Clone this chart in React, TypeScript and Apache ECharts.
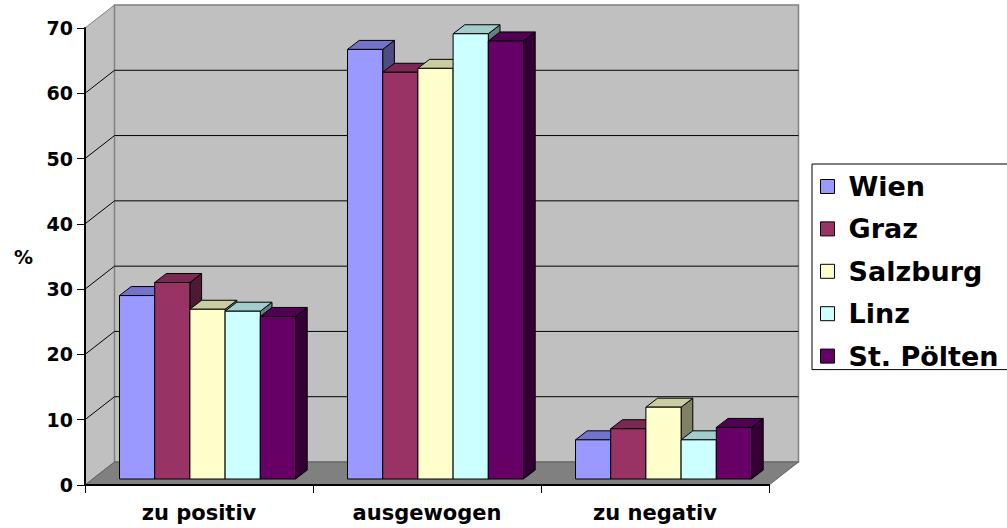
import React, { useEffect, useRef } from 'react';
import * as echarts from 'echarts';

// Survey answers per city, in percent
const categories = ['zu positiv', 'ausgewogen', 'zu negativ'];
const cities = ['Wien', 'Graz', 'Salzburg', 'Linz', 'St. Pölten'];
const wien = [28.1, 65.8, 6.0];
const graz = [30.1, 62.3, 7.7];
const salzburg = [26.0, 62.9, 11.0];
const linz = [25.7, 68.2, 6.0];
const stPoelten = [24.9, 67.1, 7.9];
const seriesValues = [wien, graz, salzburg, linz, stPoelten];

const yMin = 0;
const yMax = 70;
const yStep = 10;

// front / top / side face colours of each city's columns
const faceColors = [
  { front: '#9999FF', top: '#7373CC', side: '#4D4D80' },
  { front: '#993366', top: '#7A2952', side: '#4D1A33' },
  { front: '#FFFFCC', top: '#CCCCA3', side: '#808066' },
  { front: '#CCFFFF', top: '#A3CCCC', side: '#668080' },
  { front: '#660066', top: '#520052', side: '#330033' },
];

// oblique depth of the walls and columns
const WALL_DX = 29.5;
const WALL_DY = -23;
const BAR_OX = 8.5;
const BAR_OY = -6;
const BAR_DX = 11.7;
const BAR_DY = -9;
const GROUP_RATIO = 176 / 228;
const FONT = '"DejaVu Sans", "Liberation Sans", sans-serif';

const renderFrame = (params: any, api: any) => {
  const cs = params.coordSys;
  const x0 = cs.x;
  const x1 = cs.x + cs.width;
  const y0 = cs.y;
  const y1 = cs.y + cs.height;
  const children: any[] = [];
  // side wall
  children.push({
    type: 'polygon',
    shape: { points: [[x0, y0], [x0 + WALL_DX, y0 + WALL_DY], [x0 + WALL_DX, y1 + WALL_DY], [x0, y1]] },
    style: { fill: '#C0C0C0', stroke: '#808080', lineWidth: 1 },
  });
  // back wall
  children.push({
    type: 'rect',
    shape: { x: x0 + WALL_DX, y: y0 + WALL_DY, width: cs.width, height: cs.height },
    style: { fill: '#C0C0C0', stroke: '#808080', lineWidth: 1.5 },
  });
  // floor
  children.push({
    type: 'polygon',
    shape: { points: [[x0, y1], [x1, y1], [x1 + WALL_DX, y1 + WALL_DY], [x0 + WALL_DX, y1 + WALL_DY]] },
    style: { fill: '#808080', stroke: '#606060', lineWidth: 1 },
  });
  // grid lines across side and back walls
  for (let v = yMin + yStep; v < yMax; v += yStep) {
    const yv = api.coord([0, v])[1];
    children.push({
      type: 'polyline',
      shape: { points: [[x0, yv], [x0 + WALL_DX, yv + WALL_DY], [x1 + WALL_DX, yv + WALL_DY]] },
      style: { fill: 'none', stroke: '#000', lineWidth: 1 },
    });
  }
  return { type: 'group', children };
};

const makeBarRender = (sIdx: number) => (params: any, api: any) => {
  const cat = api.value(0);
  const val = api.value(1);
  const base = api.coord([cat, 0]);
  const topPt = api.coord([cat, val]);
  const band = api.size([1, 0])[0];
  const gw = band * GROUP_RATIO;
  const bw = gw / cities.length;
  const L = base[0] - gw / 2 + sIdx * bw + BAR_OX;
  const R = L + bw;
  const B = base[1] + BAR_OY;
  const T = topPt[1] + BAR_OY;
  const c = faceColors[sIdx];
  const edge = { stroke: '#000', lineWidth: 1, lineJoin: 'round' };
  return {
    type: 'group',
    children: [
      {
        type: 'polygon',
        shape: { points: [[R, T], [R + BAR_DX, T + BAR_DY], [R + BAR_DX, B + BAR_DY], [R, B]] },
        style: { fill: c.side, ...edge },
      },
      {
        type: 'polygon',
        shape: { points: [[L, T], [R, T], [R + BAR_DX, T + BAR_DY], [L + BAR_DX, T + BAR_DY]] },
        style: { fill: c.top, ...edge },
      },
      {
        type: 'rect',
        shape: { x: L, y: T, width: bw, height: B - T },
        style: { fill: c.front, ...edge },
      },
    ],
  };
};

export default function App() {
  const ref = useRef<HTMLDivElement>(null);

  useEffect(() => {
    if (!ref.current) return;
    const chart = echarts.init(ref.current, null, { renderer: 'svg' });

    const barSeries = cities.map((name, sIdx) => ({
      type: 'custom',
      name,
      coordinateSystem: 'cartesian2d',
      renderItem: makeBarRender(sIdx),
      data: seriesValues[sIdx].map((v, i) => [i, v]),
      encode: { x: 0, y: 1 },
      itemStyle: { color: faceColors[sIdx].front },
      clip: false,
      z: 2,
    }));

    chart.setOption({
      animation: false,
      backgroundColor: '#fff',
      grid: { left: 85, right: 238, top: 28, bottom: 43 },
      xAxis: {
        type: 'category',
        data: categories,
        z: 5,
        axisLine: { show: true, lineStyle: { color: '#000', width: 2 } },
        axisTick: { show: true, length: 8, lineStyle: { color: '#000', width: 1 } },
        axisLabel: { margin: 17, fontFamily: FONT, fontWeight: 'bold', fontSize: 21, color: '#000' },
        splitLine: { show: false },
      },
      yAxis: {
        type: 'value',
        min: yMin,
        max: yMax,
        interval: yStep,
        z: 5,
        name: '%',
        nameLocation: 'middle',
        nameRotate: 0,
        nameGap: 52,
        nameTextStyle: { fontFamily: FONT, fontWeight: 'bold', fontSize: 19, color: '#000' },
        axisLine: { show: true, lineStyle: { color: '#000', width: 2 } },
        axisTick: { show: true, length: 8, lineStyle: { color: '#000', width: 1 } },
        axisLabel: { margin: 12, fontFamily: FONT, fontWeight: 'bold', fontSize: 19, color: '#000' },
        splitLine: { show: false },
      },
      legend: {
        data: cities,
        orient: 'vertical',
        left: 812,
        top: 164,
        icon: 'rect',
        itemWidth: 14,
        itemHeight: 14,
        itemGap: 15.4,
        padding: [9, 60, 0, 8],
        borderColor: '#000',
        borderWidth: 1,
        backgroundColor: '#fff',
        selectedMode: false,
        itemStyle: { borderColor: '#000', borderWidth: 1 },
        textStyle: {
          fontFamily: FONT,
          fontWeight: 'bold',
          fontSize: 27,
          color: '#000',
          padding: [0, 0, 0, 9],
        },
      },
      series: [
        {
          type: 'custom',
          name: 'frame',
          coordinateSystem: 'cartesian2d',
          renderItem: renderFrame,
          data: [[0, 0]],
          encode: { x: 0, y: 1 },
          silent: true,
          clip: false,
          z: 1,
        },
        ...barSeries,
      ],
    });

    return () => chart.dispose();
  }, []);

  return (
    <div
      ref={ref}
      style={{ position: 'fixed', left: 0, top: 0, width: 1007, height: 528, background: '#fff' }}
    />
  );
}
